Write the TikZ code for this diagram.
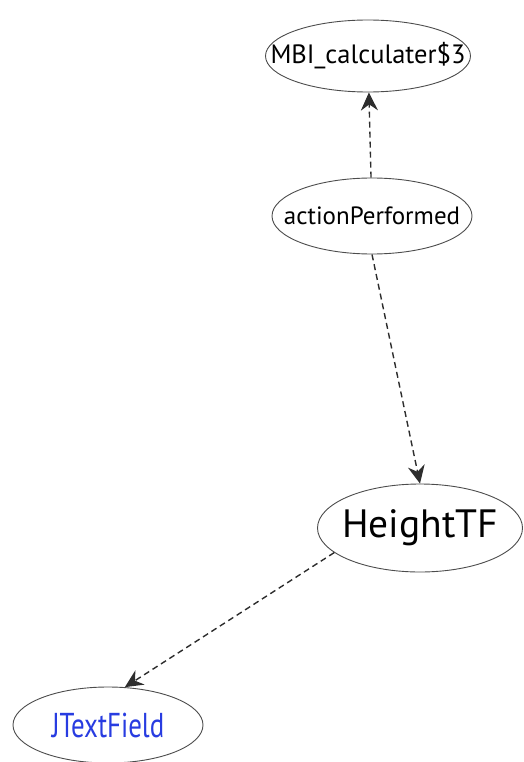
\documentclass[tikz,border=0pt]{standalone}
\usepackage{fontspec}
\setmainfont{PT Sans}
\usetikzlibrary{shapes.geometric,arrows.meta}
\definecolor{jblue}{RGB}{40,60,225}
\definecolor{edgegray}{RGB}{45,45,45}
\tikzset{
  ell/.style={ellipse, draw=edgegray!85, line width=0.9pt, inner sep=0pt, fill=white},
  dep/.style={draw=edgegray, line width=1.4pt, dash pattern=on 6pt off 4pt,
     -{Stealth[length=18pt,width=17pt,inset=6pt]}, shorten >=0pt}
}
\newcommand{\zw}[1]{\makebox[0pt]{#1}}
\begin{document}
\begin{tikzpicture}[x=1pt,y=1pt]
\useasboundingbox (0,0) rectangle (524,-762);
\node[ell, minimum width=205pt, minimum height=72pt, font=\fontsize{26.5}{28}\selectfont] (mbi) at (368,-56) {\zw{MBI\_calculater\$3}};
\node[ell, minimum width=200pt, minimum height=76pt, font=\fontsize{25}{27}\selectfont] (act) at (372,-216) {\zw{actionPerformed}};
\node[ell, minimum width=205pt, minimum height=88pt, font=\fontsize{39.5}{42}\selectfont] (ht) at (420,-528) {\zw{HeightTF}};
\node[ell, minimum width=190pt, minimum height=76pt, font=\fontsize{34.5}{37}\selectfont, text=jblue] (jt) at (108,-725) {\zw{\scalebox{0.78}[1]{JTextField}}};
\draw[dep] (act) -- (mbi);
\draw[dep] (act.south) -- (ht.north);
\draw[dep] (ht.196) -- (jt.66);
\end{tikzpicture}
\end{document}
